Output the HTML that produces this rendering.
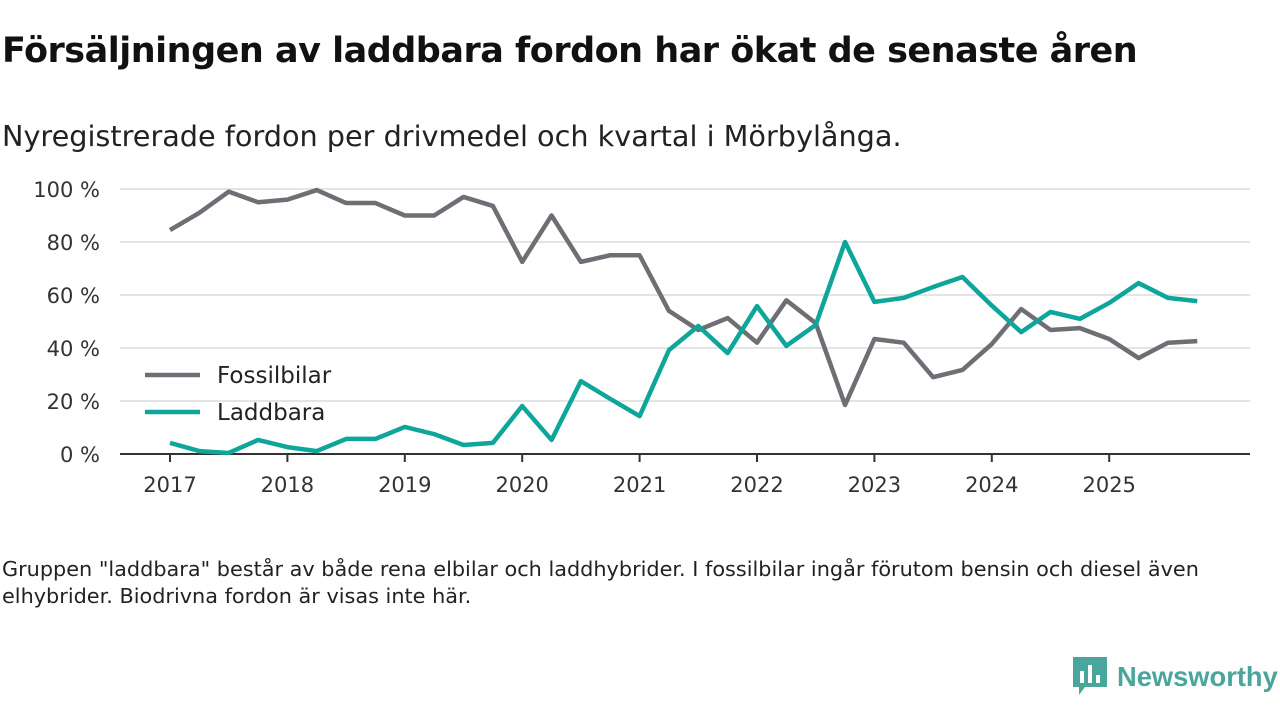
<!DOCTYPE html>
<html><head><meta charset="utf-8"><style>
body{margin:0;width:1280px;height:720px;background:#fff;font-family:"Liberation Sans","DejaVu Sans",sans-serif;overflow:hidden;position:relative}
.t{position:absolute;left:2px;top:31px;font-size:35px;font-weight:bold;color:#111;font-family:"DejaVu Sans",sans-serif;letter-spacing:-0.5px}
.s{position:absolute;left:2px;top:119px;font-size:28.7px;color:#222;font-family:"DejaVu Sans",sans-serif}
.f{position:absolute;left:2px;top:556px;font-size:20.8px;color:#222;line-height:27px;width:1225px;font-family:"DejaVu Sans",sans-serif}
svg{position:absolute;left:0;top:0}
</style></head><body>
<div class="t">Försäljningen av laddbara fordon har ökat de senaste åren</div>
<div class="s">Nyregistrerade fordon per drivmedel och kvartal i Mörbylånga.</div>
<svg width="1280" height="720" id="c" font-family="DejaVu Sans, sans-serif"></svg>
<div class="f">Gruppen "laddbara" består av både rena elbilar och laddhybrider. I fossilbilar ingår förutom bensin och diesel även elhybrider. Biodrivna fordon är visas inte här.</div>
<div style="position:absolute;left:1073px;top:657px;height:40px;display:flex;align-items:center">
<svg width="34" height="40" style="position:static"><path d="M0 0H34V30H12L6 38V30H0Z" fill="#4aa69a"/><rect x="7" y="14" width="4" height="12" fill="#fff"/><rect x="15" y="8" width="4" height="18" fill="#fff"/><rect x="23" y="18" width="4" height="8" fill="#fff"/></svg>
<span style="font-size:27.3px;font-weight:bold;color:#4aa69a;margin-left:10px;font-family:'Liberation Sans',sans-serif">Newsworthy</span></div>
<script>
const years=["2017","2018","2019","2020","2021","2022","2023","2024","2025"];
const yTicks=[0,20,40,60,80,100];
const fossil=[84.5,91,99,95,96,99.6,94.7,94.7,90,90,97,93.6,72.5,90,72.5,75,75,54,46.8,51.3,42,58,49.4,18.5,43.4,42,29,31.7,41.5,54.7,46.8,47.5,43.4,36.2,42,42.6];
const laddbara=[4.2,1.1,0.4,5.3,2.6,1.1,5.7,5.7,10.2,7.5,3.4,4.2,18.1,5.3,27.5,20.8,14.3,39.2,48.3,38.1,55.8,40.8,48.7,80,57.4,58.9,63,66.8,56,46,53.6,51,57,64.5,58.9,57.7];
const svg=document.getElementById('c');const NS='http://www.w3.org/2000/svg';
const X=i=>170+i*29.35, Y=v=>454-v*2.65;
function mk(t,a,p){const e=document.createElementNS(NS,t);for(const k in a)e.setAttribute(k,a[k]);(p||svg).appendChild(e);return e;}
yTicks.forEach(v=>{const l=mk('line',{x1:120,x2:1250,y1:Y(v),y2:Y(v),stroke:v?'#dcdcdc':'#333','stroke-width':v?1.5:2});

const t=mk('text',{x:100,y:Y(v)+8,'text-anchor':'end','font-size':21,fill:'#333'});t.textContent=v+' %';
});
years.forEach((y,i)=>{const x=X(i*4);const l=mk('line',{x1:x,x2:x,y1:454,y2:462,stroke:'#333','stroke-width':2});

const t=mk('text',{x:x,y:492,'text-anchor':'middle','font-size':21,fill:'#333'});t.textContent=y;
});
function line(d,c,n){const p=mk('polyline',{points:d.map((v,i)=>X(i)+','+Y(v)).join(' '),fill:'none',stroke:c,'stroke-width':4.5,'stroke-linejoin':'round'});
}
line(fossil,'#6f6e75','fossilbilar-line');line(laddbara,'#0ea59a','laddbara-line');
[['Fossilbilar','#6f6e75',375],['Laddbara','#0ea59a',412]].forEach(([n,c,y])=>{
const g=mk('g',{});
mk('line',{x1:145,x2:200,y1:y,y2:y,stroke:c,'stroke-width':4.5},g);
const t=mk('text',{x:217,y:y+8,'font-size':23,fill:'#222'},g);t.textContent=n;});
</script>
</body></html>
